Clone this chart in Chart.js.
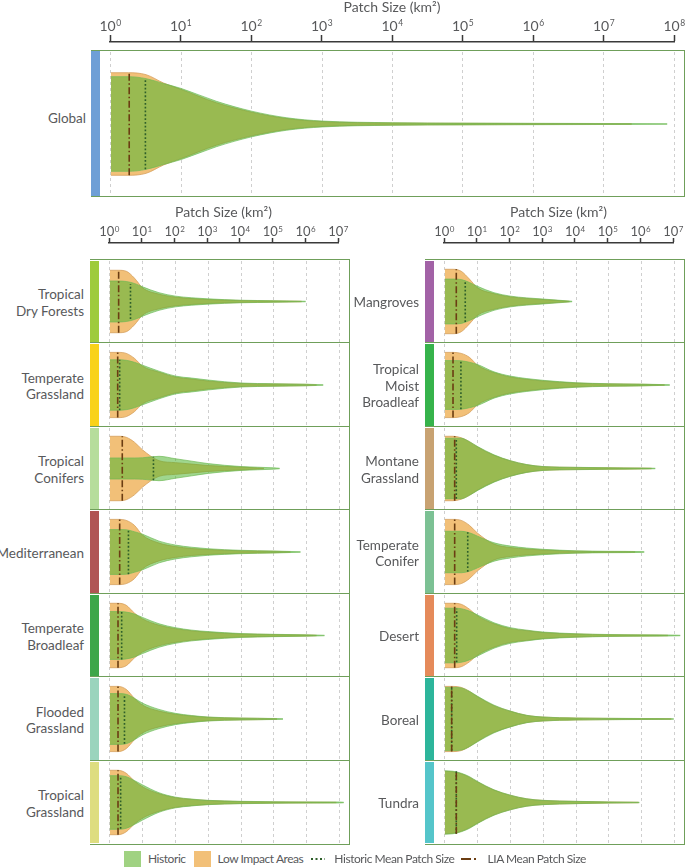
<!DOCTYPE html>
<html>
<head>
<meta charset="utf-8">
<script src="https://cdn.jsdelivr.net/npm/chart.js@4.4.1/dist/chart.umd.min.js"></script>
<style>
  body { margin: 0; background: #fff; }
  #fig { position: relative; width: 685px; height: 868px; overflow: hidden; font-family: Lato, sans-serif; color: #58595b; }
  #fig > * { position: absolute; }
  .box { border: 1.5px solid #6f9f5a; border-left: none; box-sizing: border-box; }
  .rule { height: 0; border-top: 1.5px solid #6f9f5a; }
  .name { display: flex; align-items: center; justify-content: flex-end; text-align: right; font-size: 13.5px; line-height: 16.5px; }
  #legend { display: flex; align-items: center; height: 17px; font-size: 12px; letter-spacing: -0.45px; white-space: nowrap; }
  #legend .sw { width: 17px; height: 16px; flex: none; }
  #legend svg { flex: none; display: block; }
</style>
</head>
<body>
<div id="fig"></div>
<script>
// patch sizes (km2) at which the violin half-widths were read
const sizes = [1, 1.78, 3.16, 5.62, 10, 31.6, 100, 316, 1000, 1e4, 1e5, 1e6, 1e7];
const decades = [1, 10, 100, 1e3, 1e4, 1e5, 1e6, 1e7, 1e8];

const biomes = ['Global',
  'Tropical\nDry Forests', 'Temperate\nGrassland', 'Tropical\nConifers', 'Mediterranean',
  'Temperate\nBroadleaf', 'Flooded\nGrassland', 'Tropical\nGrassland',
  'Mangroves', 'Tropical\nMoist\nBroadleaf', 'Montane\nGrassland', 'Temperate\nConifer',
  'Desert', 'Boreal', 'Tundra'];
const stripColors = ['#6e9fd6',
  '#9ecb3c', '#f9d21a', '#b6dd9c', '#b05454', '#3da64a', '#9ad4bd', '#dedd80',
  '#a262a6', '#36b34b', '#c8a272', '#7cc194', '#e58a5a', '#2db59b', '#55c5ca'];

// relative violin half-widths (density) at each size above
const histWidth = [
  [48, 48, 46, 41, 36, 23, 13, 6.3, 3, 1.3, 0.9, 0.7, 0.5],
  [21, 21, 20.5, 18.5, 15, 9, 5.5, 3.8, 2.7, 1.3, 0.8],
  [25.5, 25.5, 25, 23, 20, 14, 9, 7, 5, 2, 1.3, 0.8],
  [10.8, 10.8, 10.8, 10.8, 11, 12.5, 10, 7.5, 5, 2, 0.7],
  [22.7, 22.7, 22.5, 20.5, 18, 11, 7, 4.8, 3.3, 1.7, 1],
  [24.5, 24.5, 24, 22, 18.5, 12, 8, 5.5, 4, 2, 1.2, 0.7],
  [25.7, 25.7, 25, 21, 16, 9.7, 5.7, 3.5, 2, 1, 0.5],
  [27.5, 27.5, 26.5, 22.5, 18, 10, 5.5, 3.5, 2.2, 1.2, 0.8, 0.6, 0.5],
  [23, 23, 22.5, 19.5, 15.5, 9, 5.5, 3.7, 2.5],
  [24.7, 24.7, 24.5, 23, 20.7, 13.3, 9, 6.5, 4.7, 2.3, 1.3, 0.9],
  [31, 31, 31, 27.5, 22.5, 14, 8, 4, 2, 1.2, 0.8, 0.5],
  [21, 21, 21, 19.5, 16, 9.3, 6, 4, 2.7, 1.2, 0.7, 0.4],
  [28, 28, 27.5, 25, 21, 13, 8, 5.5, 3.5, 1.8, 1, 0.7, 0.4],
  [32, 32, 31.5, 28, 23, 14, 8, 3.7, 2, 1, 0.7, 0.5],
  [32.5, 32, 30, 26.5, 21.5, 13, 7.5, 3.8, 2.2, 1.2, 0.6]
];
const liaWidth = [
  [52, 52, 50, 41.5, 35, 21.5, 12, 5.5, 2.5, 1, 0.7, 0.5, 0.35],
  [32, 32, 31, 24, 14, 7.5, 4.5, 3, 2, 1, 0.6],
  [33, 33, 32, 27, 19, 13, 8, 6, 4, 1.6, 1, 0.6],
  [33, 33, 32, 27, 19, 8, 6, 4.5, 3, 1.5],
  [33, 33, 32, 27, 17, 9, 5.5, 3.5, 2.5, 1.2, 0.7],
  [33, 33, 31, 23, 17, 10.5, 7, 4.8, 3.3, 1.6, 1, 0.5],
  [33, 33, 30, 21, 14, 8, 4.8, 3, 1.7, 0.8, 0.4],
  [33, 33, 30, 22, 16, 9, 5, 3.2, 2, 1, 0.6, 0.4],
  [33, 33, 31, 23, 14, 8, 4.8, 3.2, 2],
  [33, 33, 32, 28, 20, 12.5, 8, 5.7, 4, 1.9, 1.1, 0.7],
  [33, 33, 31.5, 27.5, 22, 13.5, 7.8, 3.9, 1.9, 1.1, 0.7, 0.4],
  [33, 33, 32, 27, 19, 8, 4.5, 3, 2, 0.8, 0.4],
  [33, 33, 32, 27, 20, 12, 7, 5, 3, 1.5, 0.8, 0.5],
  [33, 33, 32, 28, 22.5, 13.5, 7.8, 3.6, 1.9, 0.9, 0.6, 0.4],
  [32, 31.5, 29.5, 26, 21, 12.7, 7.3, 3.7, 2.1, 1.1, 0.5]
];
// largest patch (km2) in each distribution
const histMax = [8e7, 9.3e5, 3.2e6, 1.5e5, 6.5e5, 3.5e6, 1.9e5, 1.35e7, 7.6e3, 7.2e6, 2.6e6, 1.2e6, 1.5e7, 9.5e6, 8.5e5];
const liaMax = [2.5e7, 7e5, 2e6, 5e4, 3.2e5, 2e6, 1.25e5, 8e6, 6.3e3, 5e6, 2e6, 6.3e5, 6.3e6, 8e6, 8e5];
// mean patch size (km2) and the violin half-width at that size
const histMean = [3.09, 4.27, 2.0, 21.4, 3.7, 2.3, 2.8, 2.14, 4.2, 3.1, 2.24, 5.0, 2.3, 1.62, 2.24];
const histMeanSpan = [46, 18, 25.5, 12, 22.5, 24.5, 25, 27, 21, 24.5, 31, 20, 27.5, 32, 32];
const liaMean = [1.82, 1.86, 1.74, 2.4, 2.0, 1.78, 1.78, 1.78, 2.24, 1.78, 2.0, 2.0, 2.0, 1.62, 2.24];
const liaMeanSpan = [52, 32, 33, 33, 33, 33, 33, 33, 33, 33, 33, 33, 33, 33, 32];

const TEXT = '#58595b', AXIS = '#3a3a3a', GRID = '#cfcfcf';
const ORANGE = '#f2c078', ORANGE_EDGE = '#d69f5c';
const GREEN = 'rgba(80,180,50,0.55)', GREEN_EDGE = 'rgba(110,185,85,0.85)';
const HIST_LINE = '#2e5f2a', LIA_LINE = '#6b3d12';
const TIP = 0.25;

const fig = document.getElementById('fig');
function el(tag, cls, css, html, parent) {
  const e = document.createElement(tag);
  if (cls) e.className = cls;
  Object.assign(e.style, css || {});
  if (html) e.innerHTML = html;
  (parent || fig).appendChild(e);
  return e;
}
function canvas(left, top, w, h) {
  const c = el('canvas', null, {left: left + 'px', top: top + 'px'});
  c.width = w; c.height = h;
  return c;
}

// "10" with a raised exponent, placed on the scale's decade ticks
const decadeLabels = {
  id: 'decadeLabels',
  afterDraw(chart, args, o) {
    const s = chart.scales.x, ctx = chart.ctx;
    ctx.save();
    ctx.fillStyle = TEXT;
    ctx.textBaseline = 'alphabetic';
    ctx.textAlign = 'left';
    const y = s.bottom - o.offset;
    s.ticks.forEach(t => {
      const exp = String(Math.round(Math.log10(t.value)));
      ctx.font = o.size + 'px Lato';
      const wb = ctx.measureText('10').width;
      ctx.font = o.sup + 'px Lato';
      const we = ctx.measureText(exp).width;
      const x0 = s.getPixelForValue(t.value) - (wb + we) / 2;
      ctx.font = o.size + 'px Lato';
      ctx.fillText('10', x0, y);
      ctx.font = o.sup + 'px Lato';
      ctx.fillText(exp, x0 + wb + 0.5, y - o.raise);
    });
    ctx.restore();
  }
};

function axisChart(c, xMax, pad, height, tickLen, titlePad, lab) {
  return new Chart(c, {
    type: 'line',
    data: {datasets: []},
    options: {
      responsive: false, animation: false, devicePixelRatio: 1, events: [],
      layout: {padding: {left: pad, right: pad, top: 0, bottom: 0}},
      plugins: {legend: {display: false}, tooltip: {enabled: false}, decadeLabels: lab},
      scales: {
        x: {
          type: 'logarithmic', position: 'top', min: 1, max: xMax,
          afterBuildTicks: s => { s.ticks = decades.filter(v => v <= xMax).map(v => ({value: v})); },
          afterFit: s => { s.height = height; },
          ticks: {display: false},
          grid: {drawOnChartArea: false, drawTicks: true, tickLength: tickLen, tickColor: AXIS, tickWidth: 1.5},
          border: {display: true, color: AXIS, width: 1.5},
          title: {display: true, text: 'Patch Size (km²)', color: TEXT,
                  font: {family: 'Lato', size: 14, lineHeight: 1}, padding: {top: titlePad, bottom: 0}}
        },
        y: {display: false}
      }
    },
    plugins: [decadeLabels]
  });
}

function violinChart(c, i, xMin, xMax, half, gridMax) {
  const upper = (w, max) => w.map((v, k) => ({x: sizes[k], y: v})).concat([{x: max, y: TIP}]);
  const lower = pts => pts.map(p => ({x: p.x, y: -p.y}));
  const area = (data, fill, bg, edge, order) => ({
    data, fill, order, backgroundColor: bg, borderColor: edge, borderWidth: 0.8,
    pointRadius: 0, cubicInterpolationMode: 'monotone'
  });
  const mean = (x, h, color, dash, order) => ({
    data: [{x, y: -h}, {x, y: h}], order, fill: false, borderColor: color,
    borderWidth: 1.6, borderDash: dash, pointRadius: 0
  });
  const lia = upper(liaWidth[i], liaMax[i]);
  const hist = upper(histWidth[i], histMax[i]);
  return new Chart(c, {
    type: 'line',
    data: {datasets: [
      area(lia, false, ORANGE, ORANGE_EDGE, 4),
      area(lower(lia), '-1', ORANGE, ORANGE_EDGE, 4),
      area(hist, false, GREEN, GREEN_EDGE, 3),
      area(lower(hist), '-1', GREEN, GREEN_EDGE, 3),
      mean(histMean[i], histMeanSpan[i], HIST_LINE, [1.8, 2], 2),
      mean(liaMean[i], liaMeanSpan[i], LIA_LINE, [7, 2.5, 1.5, 2.5], 1)
    ]},
    options: {
      responsive: false, animation: false, devicePixelRatio: 1, events: [],
      layout: {padding: 0},
      plugins: {legend: {display: false}, tooltip: {enabled: false}},
      scales: {
        x: {
          type: 'logarithmic', min: xMin, max: xMax,
          afterBuildTicks: s => { s.ticks = decades.filter(v => v <= gridMax).map(v => ({value: v})); },
          ticks: {display: false},
          grid: {color: GRID, lineWidth: 1, drawTicks: false},
          border: {display: false, dash: [3, 3]}
        },
        y: {type: 'linear', min: -half, max: half, display: false}
      }
    }
  });
}

// ---- global panel ----
{
  const origin = 109.5, dec = 70.5;
  axisChart(canvas(origin - 30, 0, 8 * dec + 60, 44), 1e8, 30, 42, 7, 0,
            {size: 14, sup: 8.5, raise: 4.5, offset: 11.3});
  el('div', 'box', {left: '91px', top: '50px', width: '594px', height: '147px'});
  el('div', null, {left: '91px', top: '50.5px', width: '8.5px', height: '145px', background: stripColors[0]});
  el('div', 'name', {left: '0px', top: '45px', width: '86px', height: '146px'}, biomes[0]);
  const left = 99.5, w = 584, rel = origin - left;
  violinChart(canvas(left, 51.5, w, 144), 0, Math.pow(10, -rel / dec), Math.pow(10, (w - rel) / dec), 73, 1e8);
}

// ---- two columns of biome panels ----
const tops = [259, 342, 426, 509, 593, 676, 760, 843];
[90, 425].forEach((x0, col) => {
  const origin = x0 + 19.3, dec = 32.81;
  axisChart(canvas(origin - 30, 205, 7 * dec + 60, 40), 1e7, 30, 38, 5, 0.5,
            {size: 13, sup: 8, raise: 4, offset: 7});
  el('div', 'box', {left: x0 + 'px', top: tops[0] + 'px', width: '260px', height: (tops[7] - tops[0] + 1.5) + 'px'});
  for (let r = 0; r < 7; r++) {
    const i = 1 + col * 7 + r, t = tops[r], h = tops[r + 1] - t;
    if (r > 0) el('div', 'rule', {left: x0 + 'px', top: t + 'px', width: '260px'});
    el('div', null, {left: x0 + 'px', top: (t + 1.5) + 'px', width: '9px', height: (h - 2) + 'px', background: stripColors[i]});
    el('div', 'name', {left: (x0 - 90) + 'px', top: (t + 2) + 'px', width: '84px', height: h + 'px'},
       biomes[i].split('\n').join('<br>'));
    const left = x0 + 9.5, w = 249, rel = origin - left;
    violinChart(canvas(left, t + 1.5, w, h - 1.5), i, Math.pow(10, -rel / dec), Math.pow(10, (w - rel) / dec), 41.5, 1e7);
  }
});

// ---- legend ----
const legend = el('div', null, {left: '124px', top: '850px', width: '560px'});
legend.id = 'legend';
el('div', 'sw', {background: '#a0d282', marginRight: '7px'}, null, legend);
el('span', null, {marginRight: '8px'}, 'Historic', legend);
el('div', 'sw', {background: ORANGE, marginRight: '7px'}, null, legend);
el('span', null, {marginRight: '7px'}, 'Low Impact Areas', legend);
el('span', null, {marginRight: '8px'},
   '<svg width="16" height="12"><line x1="1" y1="6" x2="15" y2="6" stroke="' + HIST_LINE + '" stroke-width="2" stroke-dasharray="2 2.5"/></svg>', legend);
el('span', null, {marginRight: '5px'}, 'Historic Mean Patch Size', legend);
el('span', null, {marginRight: '9px'},
   '<svg width="19" height="12"><line x1="1" y1="6" x2="18" y2="6" stroke="' + LIA_LINE + '" stroke-width="2" stroke-dasharray="10 3 2 3"/></svg>', legend);
el('span', null, {}, 'LIA Mean Patch Size', legend);
</script>
</body>
</html>
